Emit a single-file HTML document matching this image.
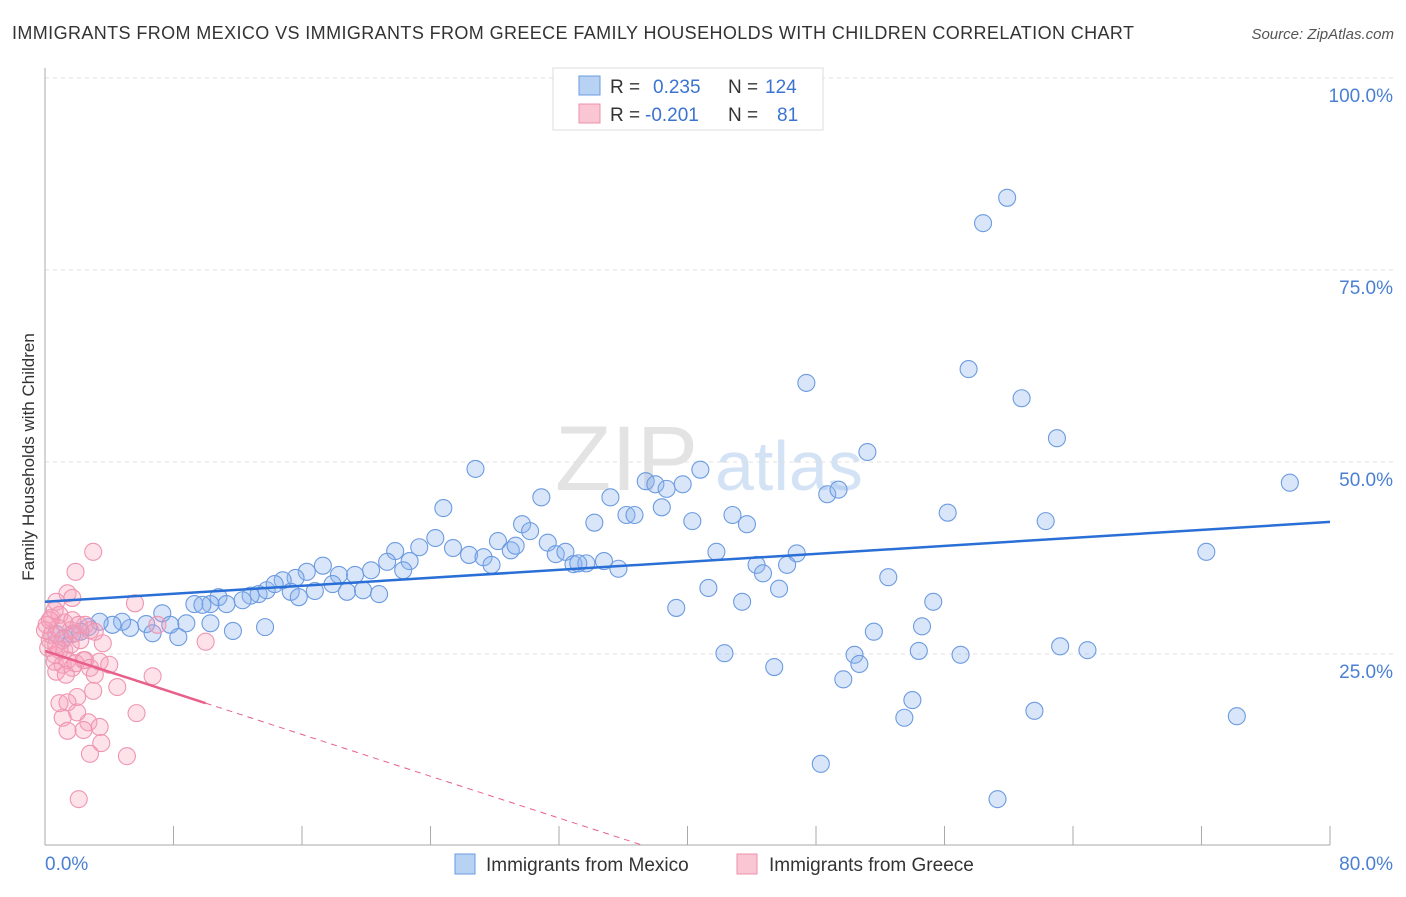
<!DOCTYPE html>
<html><head><meta charset="utf-8"><style>
body{margin:0;background:#fff;font-family:"Liberation Sans",sans-serif}
svg text{font-family:"Liberation Sans",sans-serif}
</style></head><body>
<svg id="chart" width="1406" height="892">
<text x="12" y="39" font-size="18" fill="#333" textLength="1122" lengthAdjust="spacing">IMMIGRANTS FROM MEXICO VS IMMIGRANTS FROM GREECE FAMILY HOUSEHOLDS WITH CHILDREN CORRELATION CHART</text>
<text x="1394" y="39" font-size="15" fill="#555" font-style="italic" text-anchor="end">Source: ZipAtlas.com</text>
<text x="34" y="457" font-size="17" fill="#333" text-anchor="middle" transform="rotate(-90 34 457)">Family Households with Children</text>
<g><text x="555" y="490" font-size="92" fill="#ddd" font-family="Liberation Serif" opacity="0.8">ZIP</text><text x="715" y="490" font-size="70" fill="#cfe0f4" opacity="0.9">atlas</text></g>
<g id="grid"></g><g id="marks"></g>
<g>
<rect x="553" y="68" width="270" height="62" fill="#fff" stroke="#ddd"/>
<rect x="579" y="76" width="21" height="19" fill="#b8d2f4" stroke="#6a9be0"/>
<rect x="579" y="104" width="21" height="19" fill="#fac6d4" stroke="#ec90ac"/>
<text x="610" y="93" font-size="19" fill="#333">R =</text><text x="653" y="93" font-size="19" fill="#3b74d0">0.235</text>
<text x="728" y="93" font-size="19" fill="#333">N =</text><text x="765" y="93" font-size="19" fill="#3b74d0">124</text>
<text x="610" y="121" font-size="19" fill="#333">R =</text><text x="645" y="121" font-size="19" fill="#3b74d0">-0.201</text>
<text x="728" y="121" font-size="19" fill="#333">N =</text><text x="777" y="121" font-size="19" fill="#3b74d0">81</text>
</g>
<g>
<rect x="455" y="854" width="20" height="20" fill="#b8d2f4" stroke="#6a9be0"/>
<text x="486" y="871" font-size="19" fill="#333">Immigrants from Mexico</text>
<rect x="737" y="854" width="20" height="20" fill="#fac6d4" stroke="#ec90ac"/>
<text x="769" y="871" font-size="19" fill="#333">Immigrants from Greece</text>
</g>
</svg>
<script>
const yTicks=[25,50,75,100];
const yTickLabels=["25.0%","50.0%","75.0%","100.0%"];
const xTickLabels=["0.0%","80.0%"];
const mexicoX=[59.9,58.4,47.4,57.5,60.8,63.0,51.2,77.5,26.8,37.4,38.0,38.7,39.7,40.8,30.9,24.8,35.2,36.2,36.7,38.4,42.8,43.7,40.3,48.7,49.4,56.2,62.3,34.2,29.7,30.2,24.3,28.2,31.3,29.0,29.3,23.3,25.4,26.4,27.3,27.8,21.8,22.7,21.3,22.3,31.8,32.4,32.9,33.7,34.8,33.2,35.7,41.8,46.8,44.3,46.2,44.7,20.3,19.3,18.3,17.3,16.3,15.6,14.8,18.8,17.9,19.8,20.8,16.8,15.3,15.8,13.3,12.8,13.8,14.3,12.3,10.8,11.3,10.3,9.3,9.8,7.3,8.8,10.3,7.8,8.3,6.3,6.7,5.3,4.8,4.2,3.4,2.7,2.2,1.7,1.2,0.7,11.7,13.7,52.5,41.3,45.7,39.3,43.4,55.3,54.6,51.6,42.3,50.4,54.4,57.0,63.2,64.9,45.4,50.7,49.7,54.0,53.5,61.6,74.2,72.3,48.3,59.3];
const mexicoY=[84.4,81.1,60.3,62.1,58.3,53.1,51.3,47.3,49.1,47.5,47.1,46.5,47.1,49.0,45.4,44.0,45.4,43.1,43.1,44.1,43.1,41.9,42.3,45.8,46.4,43.4,42.3,42.1,41.9,41.0,40.1,39.7,39.5,38.5,39.1,38.9,38.8,37.9,37.6,36.6,38.4,37.1,37.0,35.9,38.0,38.3,36.7,36.8,37.1,36.8,36.1,38.3,38.1,36.6,36.6,35.5,35.9,35.3,35.3,36.5,35.7,34.9,34.6,33.1,34.1,33.3,32.8,33.2,33.1,32.4,32.8,32.6,33.3,34.1,32.0,32.4,31.5,31.5,31.5,31.4,30.3,29.0,29.0,28.8,27.2,28.9,27.7,28.4,29.2,28.8,29.2,28.5,27.9,27.6,27.1,27.6,28.0,28.5,35.0,33.6,33.5,31.0,31.8,31.8,28.6,27.9,25.1,24.9,25.4,24.9,26.0,25.5,23.3,23.7,21.7,19.0,16.7,17.6,16.9,38.3,10.7,6.1];
const greeceX=[3.0,1.9,1.4,1.7,0.7,5.6,7.0,10.0,3.6,0.4,2.4,6.7,4.5,3.0,2.0,0.9,1.4,2.0,1.1,2.7,3.4,2.4,1.4,5.7,3.5,2.8,5.1,2.1,1.6,0.9,0.3,1.2,0.6,0.1,0.4,0.8,1.1,1.6,1.9,2.2,2.5,2.8,3.1,0.2,0.6,1.1,1.7,1.4,0.9,0.7,1.3,1.9,2.5,2.8,3.4,4.0,3.1,0.0,0.3,0.7,1.2,1.7,2.1,0.6];
const greeceY=[38.3,35.7,32.9,32.3,31.8,31.6,28.8,26.6,26.4,29.7,24.2,22.1,20.7,20.2,19.4,18.6,18.7,17.4,16.7,16.1,15.5,15.1,15.0,17.3,13.4,12.0,11.7,6.1,28.1,30.1,26.8,25.5,24.9,28.8,27.5,28.4,26.8,26.2,27.7,26.8,28.8,28.1,27.9,25.8,24.0,23.6,23.2,24.2,25.5,22.7,22.3,23.8,24.2,23.2,24.0,23.6,22.3,28.1,29.4,26.2,29.1,29.4,28.8,30.7];
const mexicoTrend=[31.8,42.2];
const greeceTrend=[25.4,18.6,0];
const NS="http://www.w3.org/2000/svg";
const X=v=>45+v/80*1285, Y=v=>846-v/25*192;
function mk(tag,attrs,parent){const e=document.createElementNS(NS,tag);for(const k in attrs)e.setAttribute(k,attrs[k]);parent.appendChild(e);return e;}
const grid=document.getElementById('grid'), marks=document.getElementById('marks');
yTicks.forEach((t,i)=>{
 const l=mk('line',{x1:45,x2:1393,y1:Y(t),y2:Y(t),stroke:'#e0e0e0','stroke-dasharray':'4,4'},grid);
 
 
 const tx=mk('text',{x:1393,y:Y(t)+24,'font-size':19,fill:'#4a7fd4','text-anchor':'end'},grid);
 tx.textContent=yTickLabels[i];
 
 
});
const ax=mk('line',{x1:45,x2:45,y1:68,y2:845,stroke:'#aaa'},grid);


const bx=mk('line',{x1:45,x2:1330,y1:845,y2:845,stroke:'#aaa'},grid);


for(let i=0;i<=10;i++){const t=mk('line',{x1:X(i*8),x2:X(i*8),y1:826,y2:845,stroke:'#aaa'},grid);
 
 }
[[0,'start',45],[80,'end',1393]].forEach((a,i)=>{const t=mk('text',{x:a[2],y:870,'font-size':19,fill:'#4a7fd4','text-anchor':a[1]},grid);t.textContent=xTickLabels[i];
 
 });
mexicoX.forEach((x,i)=>{const c=mk('circle',{cx:X(x),cy:Y(mexicoY[i]),r:8.5,fill:'rgba(140,180,240,0.33)',stroke:'#6c9be0','stroke-width':1.1},marks);
 
 });
greeceX.forEach((x,i)=>{const c=mk('circle',{cx:X(x),cy:Y(greeceY[i]),r:8.5,fill:'rgba(248,160,185,0.3)',stroke:'#ef95b2','stroke-width':1.1},marks);
 
 });
const bl=mk('line',{x1:X(0),y1:Y(mexicoTrend[0]),x2:X(80),y2:Y(mexicoTrend[1]),stroke:'#2a6fd6','stroke-width':2.5},marks);


const pl=mk('line',{x1:X(0),y1:Y(greeceTrend[0]),x2:X(10),y2:Y(greeceTrend[1]),stroke:'#e8608a','stroke-width':2.5},marks);


const slope=(greeceTrend[1]-greeceTrend[0])/10, xz=(greeceTrend[2]-greeceTrend[0])/slope;
const pd=mk('line',{x1:X(10),y1:Y(greeceTrend[1]),x2:X(xz),y2:Y(greeceTrend[2]),stroke:'#e8608a','stroke-width':1,'stroke-dasharray':'6,5'},marks);


</script>
</body></html>
